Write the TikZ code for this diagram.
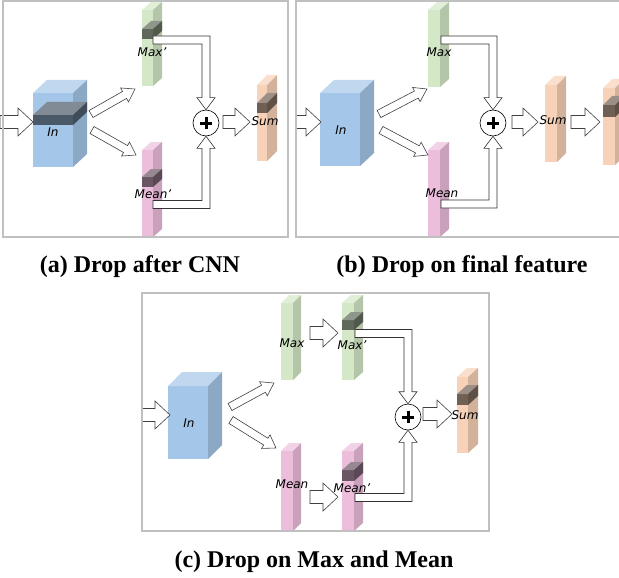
\documentclass[tikz,border=0pt]{standalone}
\usepackage{fontspec}
\setmainfont{Liberation Serif}
\setsansfont{DejaVu Sans}
\usetikzlibrary{calc}

\definecolor{blu}{RGB}{164,198,232}
\definecolor{grn}{RGB}{212,232,200}
\definecolor{pnk}{RGB}{236,190,220}
\definecolor{org}{RGB}{248,210,184}
\definecolor{frame}{RGB}{192,192,192}

% x, y, width, height, depth x, depth y, colour
\newcommand\cuboid[7]{%
  \fill[#7] (#1,#2) rectangle +(#3,#4);
  \fill[#7!70!white] (#1,#2) -- ++(#5,-#6) -- ++(#3,0) -- ++(-#5,#6) -- cycle;
  \fill[#7!85!black] (#1+#3,#2) -- ++(#5,-#6) -- ++(0,#4) -- ++(-#5,#6) -- cycle;}

% from, to, half shaft, half head, head length
\newcommand\blockarrow[5]{%
  \draw[barrow] let \p1=($(#2)-(#1)$), \n1={atan2(\y1,\x1)}, \n2={veclen(\x1,\y1)} in
    ($(#1)+(\n1+90:#3pt)$) -- ($(#1)+(\n1:\n2-#5pt)+(\n1+90:#3pt)$)
    -- ($(#1)+(\n1:\n2-#5pt)+(\n1+90:#4pt)$) -- (#2)
    -- ($(#1)+(\n1:\n2-#5pt)+(\n1-90:#4pt)$)
    -- ($(#1)+(\n1:\n2-#5pt)+(\n1-90:#3pt)$) -- ($(#1)+(\n1-90:#3pt)$) -- cycle;}

% from, plus node anchor, 1 = from above / -1 = from below
\newcommand\sumlink[3]{%
  \draw[link] let \p1=(#1), \p2=(#2) in
    (\x1,{\y1+(#3)*4pt}) -- ({\x2+4pt},{\y1+(#3)*4pt}) -- ({\x2+4pt},{\y2+(#3)*12pt})
    -- ({\x2+9pt},{\y2+(#3)*12pt}) -- (\x2,\y2) -- ({\x2-9pt},{\y2+(#3)*12pt})
    -- ({\x2-4pt},{\y2+(#3)*12pt}) -- ({\x2-4pt},{\y1-(#3)*4pt}) -- (\x1,{\y1-(#3)*4pt}) -- cycle;}

\begin{document}
\begin{tikzpicture}[x=1pt,y=-1pt,
  barrow/.style={draw=black!75,fill=white,line width=.6pt},
  link/.style={draw=black!80,fill=white,line width=.6pt},
  plus/.style={circle,draw,fill=white,line width=.6pt,minimum size=26pt,inner sep=0pt},
  lbl/.style={font=\sffamily\itshape\fontsize{12}{12}\selectfont,inner sep=0pt},
  subcap/.style={font=\fontsize{24}{24}\selectfont\bfseries,inner sep=0pt,anchor=base}]
\useasboundingbox (0,0) rectangle (619,578);
\clip (0,0) rectangle (619,578);

% feature maps
\foreach \x/\y/\w/\h/\dx/\dy/\c in
  {33/93/40/74/14/13/blu, 320/93/40/73/14/13/blu, 168/386/40/73/14/14/blu,%
   142/10/11/76/9/8/grn, 142/150/11/87/9/8/pnk, 257/85/10/76/10/10/org,%
   428/10/12/77/9/8/grn, 428/150/12/87/9/8/pnk, 545/85/12/77/9/9/org, 603/88/12/77/9/9/org,%
   281/303/12/77/8/8/grn, 342/303/12/77/9/8/grn, 281/451/12/80/8/8/pnk, 342/451/12/80/9/8/pnk,%
   457/377/11/76/10/9/org}
    \cuboid{\x}{\y}{\w}{\h}{\dx}{\dy}{\c};
% dropped parts
\foreach \x/\y/\w/\h/\dx/\dy/\c in
  {33/115/40/10/14/13/blu, 142/29/11/10/9/8/grn, 142/177/11/10/9/8/pnk, 257/103/10/10/10/10/org,%
   603/105/12/12/9/9/org, 342/320/12/10/9/8/grn, 342/470/12/11/9/8/pnk, 457/394/11/11/10/9/org}
    \cuboid{\x}{\y}{\w}{\h}{\dx}{\dy}{\c!45!black};

% block arrows
\foreach \k/\s/\t in
  {a0/{0,122}/{33,122}, a3/{223,122}/{250,122},%
   b0/{296,122}/{321,122}, b3/{512,122}/{538,122}, b4/{571,122}/{600,122},%
   c0/{142,415}/{170,415}, c3/{310,333}/{338,333}, c4/{310,497}/{338,497}, c5/{423,414}/{452,414}}{
    \coordinate (\k-s) at (\s); \coordinate (\k-t) at (\t);
    \blockarrow{\k-s}{\k-t}{6.5}{14}{15}}
\foreach \k/\s/\t in
  {a1/{91,114}/{135,89}, a2/{92,130}/{136,155},%
   b1/{379,114}/{427,89}, b2/{381,130}/{428,155},%
   c1/{230,407}/{274,383}, c2/{231,420}/{276,448}}{
    \coordinate (\k-s) at (\s); \coordinate (\k-t) at (\t);
    \blockarrow{\k-s}{\k-t}{4}{8}{12}}

% sums
\node[plus] (pa) at (206,123) {};
\node[plus] (pb) at (493,123) {};
\node[plus] (pc) at (408,417) {};
\foreach \p in {pa,pb,pc}
  \draw[line width=3pt] (\p.center) +(-6pt,0) -- +(6pt,0) +(0,-6pt) -- +(0,6pt);
\coordinate (maxa) at (153,40);    \coordinate (meana) at (153,204.5);
\coordinate (maxb) at (441,40);    \coordinate (meanb) at (441,204);
\coordinate (maxc) at (355,333.5); \coordinate (meanc) at (355,497.5);
\sumlink{maxa}{pa.north}{1}
\sumlink{meana}{pa.south}{-1}
\sumlink{maxb}{pb.north}{1}
\sumlink{meanb}{pb.south}{-1}
\sumlink{maxc}{pc.north}{1}
\sumlink{meanc}{pc.south}{-1}

% labels
\node[lbl] (in-a) at (53,132) {In};
\node[lbl] (max-a) at (152,52) {Max'};
\node[lbl] (mean-a) at (153,194) {Mean'};
\node[lbl] (sum-a) at (265,121) {Sum};
\node[lbl] (in-b) at (341,130) {In};
\node[lbl] (max-b) at (439,52) {Max};
\node[lbl] (mean-b) at (442,193) {Mean};
\node[lbl] (sum-b) at (553,120) {Sum};
\node[lbl] (in-c) at (189,423) {In};
\node[lbl] (max-c) at (292,343) {Max};
\node[lbl] (maxd-c) at (352,345) {Max'};
\node[lbl] (mean-c) at (292,484) {Mean};
\node[lbl] (meand-c) at (352,488) {Mean'};
\node[lbl] (sum-c) at (465,415) {Sum};

% panels
\draw[frame,line width=1.5pt] (3,1) rectangle (288,237);
\draw[frame,line width=1.5pt] (296,1) rectangle (630,237);
\draw[frame,line width=1.5pt] (142,293) rectangle (489,531);
\node[subcap] (cap-a) at (140,272) {(a) Drop after CNN};
\node[subcap] (cap-b) at (462,272) {(b) Drop on final feature};
\node[subcap] (cap-c) at (314,567) {(c) Drop on Max and Mean};
\end{tikzpicture}
\end{document}
